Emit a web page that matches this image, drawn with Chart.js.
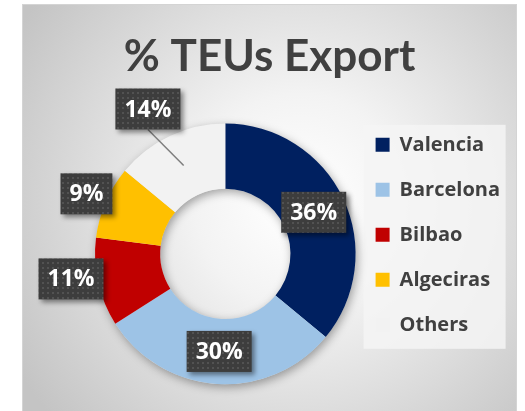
<!DOCTYPE html>
<html>
<head>
<meta charset="utf-8">
<script src="https://cdn.jsdelivr.net/npm/chart.js"></script>
<style>
  html, body { margin: 0; padding: 0; background: #fff; }
</style>
</head>
<body>
<canvas id="teuChart" width="525" height="411"></canvas>
<script>
// data
var ports = ["Valencia", "Barcelona", "Bilbao", "Algeciras", "Others"];
var share = [36, 30, 11, 9, 14];
var portColors = ["#002060", "#9dc3e6", "#c00000", "#ffc000", "#f2f2f2"];

// dotted fill used by the label boxes
var tile = document.createElement("canvas");
tile.width = 5; tile.height = 5;
var tctx = tile.getContext("2d");
tctx.fillStyle = "#3d3d3d";
tctx.fillRect(0, 0, 5, 5);
tctx.fillStyle = "#525252";
tctx.fillRect(2, 2, 2, 2);

// grey frame, radial shading, legend panel
var backdrop = {
  id: "backdrop",
  afterLayout: function (chart) {
    // centre the title on the whole frame, not on the padded area
    var t = chart.titleBlock;
    if (t) { t.left = 22; t.right = 517; t.width = 495; }
  },
  beforeDraw: function (chart) {
    var ctx = chart.ctx;
    ctx.save();
    ctx.fillStyle = "#ffffff";
    ctx.fillRect(0, 0, chart.width, chart.height);
    var g = ctx.createRadialGradient(300, 200, 10, 300, 200, 330);
    g.addColorStop(0, "#ffffff");
    g.addColorStop(0.3, "#f3f3f3");
    g.addColorStop(1, "#c4c4c4");
    ctx.fillStyle = g;
    ctx.fillRect(22, 4, 495, 420);
    ctx.strokeStyle = "#d4d4d4";
    ctx.lineWidth = 1;
    ctx.strokeRect(22.5, 4.5, 494, 420);
    var lg = chart.legend;
    ctx.fillStyle = "rgba(244,244,244,0.85)";
    ctx.fillRect(lg.left + 8, lg.top + 10, 142, 224);
    ctx.restore();
  },
  beforeDatasetsDraw: function (chart) {
    var a = chart.getDatasetMeta(0).data[0];
    if (!a) return;
    var ctx = chart.ctx;
    ctx.save();
    ctx.shadowColor = "rgba(0,0,0,0.35)";
    ctx.shadowBlur = 10;
    ctx.shadowOffsetX = 2;
    ctx.shadowOffsetY = 3;
    ctx.beginPath();
    ctx.arc(a.x, a.y, a.outerRadius, 0, Math.PI * 2);
    ctx.arc(a.x, a.y, a.innerRadius, 0, Math.PI * 2, true);
    ctx.fillStyle = "#dddddd";
    ctx.fill();
    ctx.restore();
  }
};

// percentage boxes
var pctLabels = {
  id: "pctLabels",
  afterDatasetsDraw: function (chart, args, opts) {
    var ctx = chart.ctx;
    var arcs = chart.getDatasetMeta(0).data;
    ctx.save();
    ctx.font = "bold 23px 'Open Sans'";
    ctx.textAlign = "center";
    ctx.textBaseline = "middle";
    arcs.forEach(function (arc, i) {
      var mid = (arc.startAngle + arc.endAngle) / 2;
      var midR = (arc.innerRadius + arc.outerRadius) / 2;
      var out = opts.outside[i];
      var ang = mid + (opts.turn[i] || 0) * Math.PI / 180;
      var r = out ? arc.outerRadius + out : midR;
      var cx = arc.x + r * Math.cos(ang);
      var cy = arc.y + r * Math.sin(ang);
      var txt = share[i] + "%";
      var w = ctx.measureText(txt).width + 18;
      var h = 41;
      if (opts.leader[i]) {
        ctx.strokeStyle = "#7f7f7f";
        ctx.lineWidth = 1.5;
        ctx.beginPath();
        ctx.moveTo(cx, cy + h / 2);
        ctx.lineTo(arc.x + midR * Math.cos(mid), arc.y + midR * Math.sin(mid));
        ctx.stroke();
      }
      ctx.save();
      ctx.shadowColor = "rgba(0,0,0,0.45)";
      ctx.shadowBlur = 5;
      ctx.shadowOffsetX = 3;
      ctx.shadowOffsetY = 3;
      ctx.fillStyle = ctx.createPattern(tile, "repeat");
      ctx.fillRect(cx - w / 2, cy - h / 2, w, h);
      ctx.restore();
      ctx.fillStyle = "#ffffff";
      ctx.fillText(txt, cx, cy + 1);
    });
    ctx.restore();
  }
};

new Chart("teuChart", {
  type: "doughnut",
  data: {
    labels: ports,
    datasets: [{
      data: share,
      backgroundColor: portColors,
      borderWidth: 0,
      hoverBorderWidth: 0,
      offset: 0,
      hoverOffset: 0
    }]
  },
  options: {
    responsive: false,
    animation: false,
    events: [],
    cutout: "50%",
    layout: {padding: {left: 95, right: 15, top: 4, bottom: 18}},
    plugins: {
      title: {
        display: true,
        text: "% TEUs Export",
        color: "#404040",
        font: {family: "Lato", size: 44, weight: "bold", lineHeight: 1.2},
        padding: {top: 26, bottom: 32}
      },
      legend: {
        position: "right",
        align: "start",
        fullSize: false,
        labels: {
          color: "#404040",
          font: {family: "'Open Sans'", size: 20, weight: "bold", lineHeight: "25px"},
          boxWidth: 14,
          boxHeight: 14,
          padding: 20,
          generateLabels: function (chart) {
            var items = Chart.overrides.doughnut.plugins.legend.labels.generateLabels(chart);
            items.forEach(function (it) { it.text = [it.text]; });
            return items;
          }
        }
      },
      tooltip: {enabled: false},
      pctLabels: {
        outside: [0, 0, 26, 21, 34],
        turn: [0, 0, 3.4, 0, -2.9],
        leader: [false, false, false, false, true]
      }
    }
  },
  plugins: [backdrop, pctLabels]
});
</script>
</body>
</html>
